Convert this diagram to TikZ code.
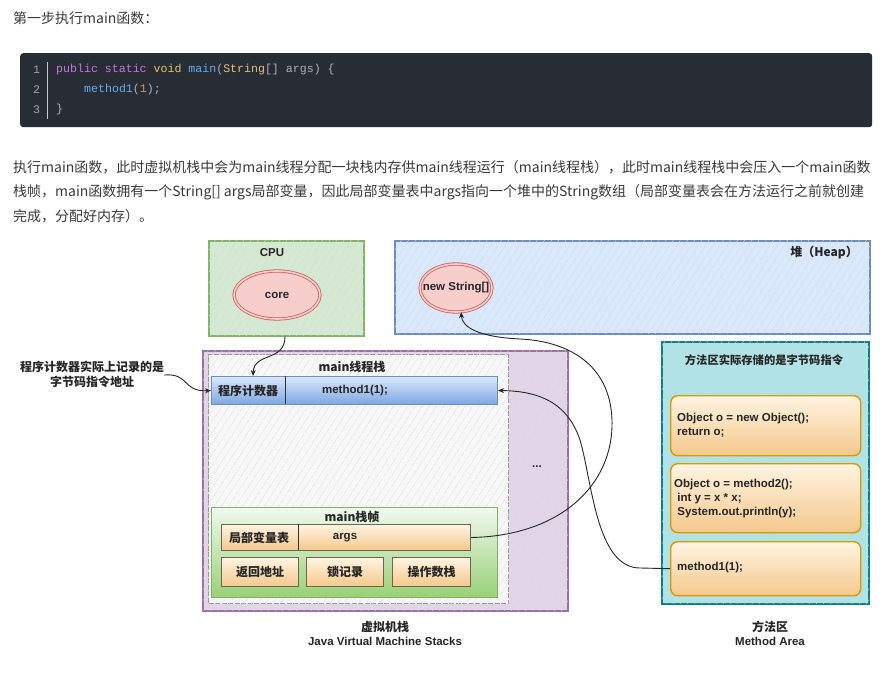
\documentclass[tikz,border=0pt]{standalone}
\usepackage{fontspec}
\setmainfont{Noto Sans CJK SC}
\newfontfamily\cjk{Noto Sans CJK SC}
\newfontfamily\lat{Liberation Sans}
\newfontfamily\mono{Liberation Mono}
\usetikzlibrary{shapes.geometric,patterns.meta,arrows.meta}
\definecolor{txt}{HTML}{3A3A3A}
\definecolor{codebg}{HTML}{282C34}
\definecolor{cnum}{HTML}{9DA5B4}
\definecolor{ckw}{HTML}{C678DD}
\definecolor{cty}{HTML}{E5C07B}
\definecolor{cfn}{HTML}{61AFEF}
\definecolor{cpl}{HTML}{ABB2BF}
\definecolor{cnumlit}{HTML}{D19A66}
\definecolor{cpuF}{HTML}{D5E8D4}
\definecolor{cpuD}{HTML}{82B366}
\definecolor{heapF}{HTML}{DAE8FC}
\definecolor{heapD}{HTML}{6C8EBF}
\definecolor{ellF}{HTML}{F8CECC}
\definecolor{ellD}{HTML}{D0605E}
\definecolor{jvmF}{HTML}{E1D5E7}
\definecolor{jvmD}{HTML}{9673A6}
\definecolor{tsF}{HTML}{F7F7F7}
\definecolor{tsD}{HTML}{9A9A9A}
\definecolor{pcTop}{HTML}{DAE8FC}
\definecolor{pcBot}{HTML}{7EA6E0}
\definecolor{frTop}{HTML}{F1F9EE}
\definecolor{frBot}{HTML}{97D077}
\definecolor{orTop}{HTML}{FFF4E2}
\definecolor{orBot}{HTML}{F4C88C}
\definecolor{orD}{HTML}{6E6452}
\definecolor{maOrD}{HTML}{D79B00}
\definecolor{maF}{HTML}{B0E3E6}
\definecolor{maD}{HTML}{0E8088}
\begin{document}
\begin{tikzpicture}[x=1pt,y=-1pt,
  para/.style={anchor=west,inner sep=0pt,text=txt,font=\cjk\fontsize{14}{16}\selectfont},
  codeln/.style={anchor=west,inner sep=0pt,font=\mono\fontsize{11.6}{13}\selectfont},
  hatch/.style={postaction={pattern={Lines[angle=57,distance=6pt,line width=0.35pt]},pattern color=#1}},
  area/.style={rectangle,anchor=north west,inner sep=0pt,line width=1.6pt},
  ell/.style={ellipse,draw=ellD,line width=0.8pt,double=ellF,double distance=1.6pt,fill=ellF,inner sep=0pt},
  lbl/.style={inner sep=0pt,text=black!85,font=\lat\bfseries\fontsize{11.5}{14}\selectfont},
  clbl/.style={inner sep=0pt,text=black!85,font=\cjk\bfseries\fontsize{12}{14}\selectfont},
  mbox/.style={rectangle,anchor=north west,inner sep=0pt,rounded corners=7pt,draw=maOrD,line width=1.4pt,top color=orTop,bottom color=orBot},
  fbox/.style={rectangle,anchor=north west,inner sep=0pt,draw=orD,line width=1pt,top color=orTop,bottom color=orBot},
  conn/.style={draw=black!85,line width=0.9pt},
  tip/.style={-{Stealth[length=6pt,width=5pt]}}
]
\useasboundingbox (0,0) rectangle (887,682);
\fill[white] (0,0) rectangle (887,682);

% ---------- heading and code ----------
\node[para] (h0) at (13,18) {第一步执行main函数：};
\node[rectangle,anchor=north west,fill=codebg,rounded corners=3pt,minimum width=852pt,minimum height=74pt,inner sep=0pt] (code) at (20,53) {};
\draw[cnum!60,line width=0.8pt] (47,62) -- (47,119);
\node[codeln,text=cnum] (n1) at (33,70) {1};
\node[codeln,text=cnum] (n2) at (33,90) {2};
\node[codeln,text=cnum] (n3) at (33,110) {3};
\node[codeln] (c1) at (56,70) {\textcolor{ckw}{public static} \textcolor{cty}{void} \textcolor{cfn}{main}\textcolor{cpl}{(}\textcolor{cty}{String}\textcolor{cpl}{[] args) \{}};
\node[codeln] (c2) at (84,90) {\textcolor{cfn}{method1}\textcolor{cpl}{(}\textcolor{cnumlit}{1}\textcolor{cpl}{);}};
\node[codeln] (c3) at (56,110) {\textcolor{cpl}{\}}};

% ---------- paragraph ----------
\node[para] (p1) at (13,167) {执行main函数，此时虚拟机栈中会为main线程分配一块栈内存供main线程运行（main线程栈），此时main线程栈中会压入一个main函数};
\node[para] (p2) at (13,192) {栈帧，main函数拥有一个String[] args局部变量，因此局部变量表中args指向一个堆中的String数组（局部变量表会在方法运行之前就创建};
\node[para] (p3) at (13,216) {完成，分配好内存）。};

% ---------- CPU ----------
\node[area,draw=cpuD,fill=cpuF,hatch=cpuD!35,minimum width=155pt,minimum height=95pt] (cpu) at (208,240) {};
\node[lbl] (cpuT) at (272,253) {CPU};
\node[ell,minimum width=86pt,minimum height=48pt] (core) at (277,295) {};
\node[lbl] (coreT) at (277,295) {core};

% ---------- Heap ----------
\node[area,draw=heapD,fill=heapF,hatch=heapD!30,minimum width=475pt,minimum height=93pt] (heap) at (394,240) {};
\node[clbl,anchor=east] (heapT) at (858,253) {堆（Heap）};
\node[ell,minimum width=72pt,minimum height=48pt] (str) at (456,288) {};
\node[lbl] (strT) at (456,288) {new String[]};

% ---------- JVM stacks ----------
\node[area,draw=jvmD,fill=jvmF,hatch=jvmD!30,minimum width=365pt,minimum height=260pt] (jvm) at (202,350) {};
\node[lbl] (dots) at (537,467) {...};
\node[area,draw=tsD,line width=1pt,dash pattern=on 5pt off 1.5pt,fill=tsF,hatch=black!12,minimum width=300pt,minimum height=249pt] (ts) at (208,354) {};
\node[clbl] (tsT) at (352,367) {main线程栈};
\node[rectangle,anchor=north west,inner sep=0pt,draw=heapD,line width=1pt,top color=pcTop,bottom color=pcBot,minimum width=286pt,minimum height=28pt] (pc) at (211,376) {};
\draw[black!80,line width=0.8pt] (285,376) -- (285,404);
\node[clbl] (pcT) at (248,391) {程序计数器};
\node[lbl] (pcV) at (355,391) {method1(1);};

\node[rectangle,anchor=north west,inner sep=0pt,draw=cpuD,line width=1pt,top color=frTop,bottom color=frBot,minimum width=286pt,minimum height=90pt] (frame) at (211,507) {};
\node[clbl] (frT) at (352,517) {main栈帧};
\node[fbox,minimum width=249pt,minimum height=26pt] (lvt) at (221,524) {};
\draw[black!80,line width=0.8pt] (298,524) -- (298,550);
\node[clbl] (lvtT) at (259,538) {局部变量表};
\node[lbl] (lvtV) at (345,538) {args};
\node[fbox,minimum width=77pt,minimum height=29pt] (b1) at (221,557) {};
\node[clbl] at (b1.center) (b1T) {返回地址};
\node[fbox,minimum width=77pt,minimum height=29pt] (b2) at (306,557) {};
\node[clbl] at (b2.center) (b2T) {锁记录};
\node[fbox,minimum width=78pt,minimum height=29pt] (b3) at (392,557) {};
\node[clbl] at (b3.center) (b3T) {操作数栈};

\node[clbl] (jvmC1) at (385,627) {虚拟机栈};
\node[lbl] (jvmC2) at (385,641) {Java Virtual Machine Stacks};

% ---------- annotation ----------
\node[clbl,align=center,font=\cjk\bfseries\fontsize{12}{15}\selectfont] (note) at (92,374) {程序计数器实际上记录的是\\字节码指令地址};

% ---------- Method area ----------
\node[area,draw=maD,fill=maF,hatch=maD!25,minimum width=207pt,minimum height=262pt] (ma) at (661,341) {};
\node[clbl,font=\cjk\bfseries\fontsize{11.3}{14}\selectfont] (maT) at (764,360) {方法区实际存储的是字节码指令};
\node[mbox,minimum width=190pt,minimum height=60pt] (m1) at (670,395) {};
\node[lbl,anchor=west,align=left] (m1T) at (677,425) {Object o = new Object();\\return o;};
\node[mbox,minimum width=190pt,minimum height=69pt] (m2) at (670,463) {};
\node[lbl,anchor=west,align=left] (m2T) at (674,499) {Object o = method2();\\\ int y = x * x;\\\ System.out.println(y);};
\node[mbox,minimum width=190pt,minimum height=54pt] (m3) at (670,541) {};
\node[lbl,anchor=west] (m3T) at (677,568) {method1(1);};
\node[clbl] (maC1) at (770,627) {方法区};
\node[lbl] (maC2) at (770,641) {Method Area};

% ---------- connectors ----------
\draw[conn,tip] (cpu.south -| 285,0) .. controls (285,362) and (254,352) .. (pc.north -| 253,0);
\draw[conn,tip] (note.east |- 0,375) .. controls (190,373) and (182,392) .. (pc.west);
\draw[conn,tip] (lvt.east) .. controls (560,536) and (614,485) .. (612,420)
   .. controls (610,362) and (565,341) .. (520,339)
   .. controls (478,337) and (462,327) .. (str.-78);
\draw[conn,tip] (m3.west) -- (640,568) .. controls (596,568) and (592,480) .. (580,440)
   .. controls (566,398) and (532,391) .. (pc.east);
\end{tikzpicture}
\end{document}
